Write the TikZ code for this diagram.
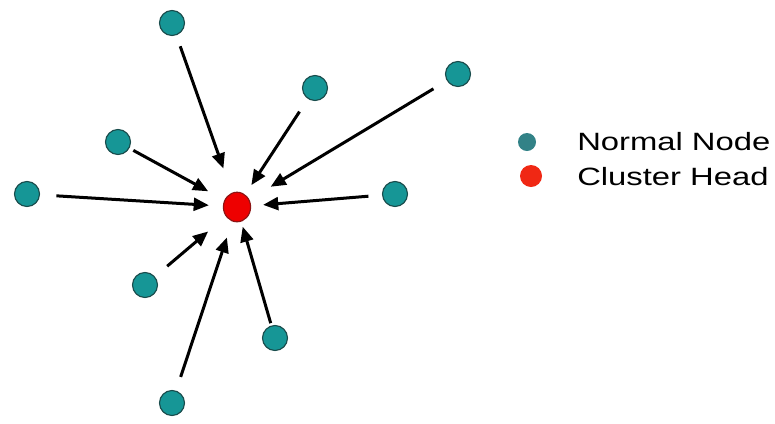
\documentclass[tikz,border=0pt]{standalone}
\usepackage{fontspec}
\newfontfamily\legendfont[FakeStretch=1.31]{Liberation Sans}
\usetikzlibrary{arrows.meta,shapes.geometric}
\definecolor{nodeteal}{RGB}{22,150,150}
\definecolor{nodeedge}{RGB}{25,75,75}
\definecolor{headred}{RGB}{238,0,0}
\definecolor{headedge}{RGB}{140,20,20}
\definecolor{legendteal}{RGB}{50,130,135}
\definecolor{legendred}{RGB}{240,40,20}
\begin{document}
\begin{tikzpicture}[x=0.25mm, y=-0.25mm,
        normal/.style={circle, draw=nodeedge, fill=nodeteal, line width=0.8pt, minimum size=6.25mm, inner sep=0pt},
        chead/.style={ellipse, draw=headedge, fill=headred, line width=0.8pt, minimum width=6.8mm, minimum height=7.4mm, inner sep=0pt},
        tohead/.style={line width=0.75mm, -{Triangle[length=3.8mm,width=3.2mm]}},
        legenddot/.style={circle, inner sep=0pt},
        legendtext/.style={anchor=west, inner sep=0pt, font=\legendfont\fontsize{17.8}{20}\selectfont}]
        \useasboundingbox (0,0) rectangle (775,423);
        \node[chead] (ch) at (237,207) {};
        \node[normal] (n1) at (172,23) {};
        \node[normal] (n2) at (315,88) {};
        \node[normal] (n3) at (458,74) {};
        \node[normal] (n4) at (118,142) {};
        \node[normal] (n5) at (27,194) {};
        \node[normal] (n6) at (395,194) {};
        \node[normal] (n7) at (145,285) {};
        \node[normal] (n8) at (275,338) {};
        \node[normal] (n9) at (172,403) {};
        \draw[tohead, shorten <=2.9mm, shorten >=6.4mm] (n1) -- (ch);
        \draw[tohead, shorten <=3.8mm, shorten >=2.8mm] (n2) -- (ch);
        \draw[tohead, shorten <=3.9mm, shorten >=6.2mm] (n3) -- (ch);
        \draw[tohead, shorten <=1.1mm, shorten >=4.6mm] (n4) -- (ch);
        \draw[tohead, shorten <=4.1mm, shorten >=3.5mm] (n5) -- (ch);
        \draw[tohead, shorten <=3.4mm, shorten >=3mm] (n6) -- (ch);
        \draw[tohead, shorten <=4mm, shorten >=5.8mm] (n7) -- (ch);
        \draw[tohead, shorten <=0.6mm, shorten >=1.3mm] (n8) -- (ch);
        \draw[tohead, shorten <=3.6mm, shorten >=4.2mm] (n9) -- (ch);
        % legend
        \node[legenddot, fill=legendteal, minimum size=4.5mm] (keynormal) at (527,142) {};
        \node[legenddot, fill=legendred, minimum size=5.5mm] (keyhead) at (531,176) {};
        \node[legendtext] (normaltext) at (577,142) {Normal Node};
        \node[legendtext] (headtext) at (577,177) {Cluster Head};
    \end{tikzpicture}
\end{document}
